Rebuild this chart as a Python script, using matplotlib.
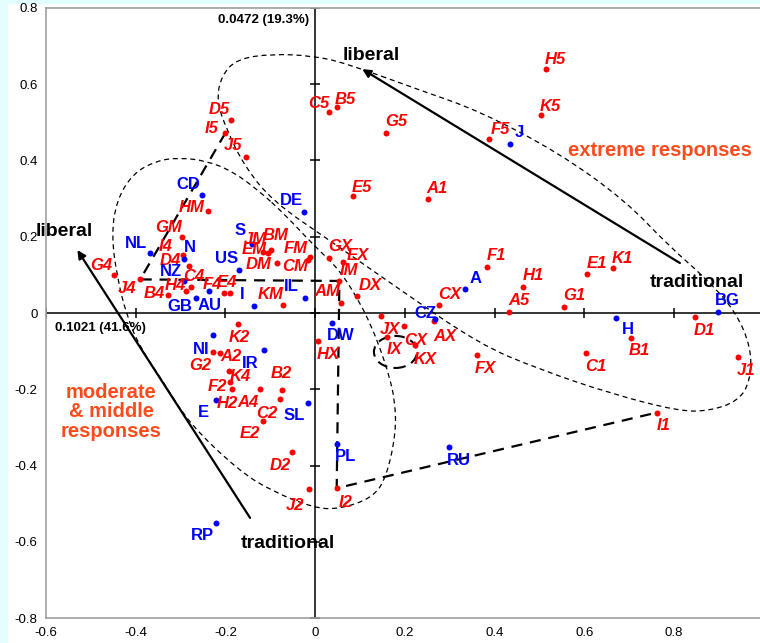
import numpy as np
import matplotlib.pyplot as plt
from matplotlib.path import Path
from matplotlib.patches import PathPatch, Ellipse, Rectangle

plt.rcParams['font.family'] = ['Liberation Sans', 'DejaVu Sans']
plt.rcParams['axes.unicode_minus'] = False

# response categories (red, italic)
cat_names = ["D5", "I5", "J5", "HM", "C5", "B5", "G5", "F5", "E5", "A1", "H5", "K5",
             "F1", "H1", "A5", "G1", "E1", "K1", "B1", "C1", "D1", "J1", "I1",
             "GX", "EX", "IM", "AM", "DX", "KM", "FM", "CM", "DM", "BM", "EM", "JM",
             "JX", "IX", "CX", "KX", "AX", "CX", "FX", "HX",
             "GM", "I4", "D4", "G4", "J4", "C4", "H4", "B4", "F4", "E4",
             "K2", "G2", "A2", "K4", "F2", "H2", "A4", "B2", "C2", "E2", "D2", "J2", "I2"]
cat_x = [-0.187, -0.200, -0.154, -0.238, 0.030, 0.048, 0.158, 0.388, 0.084, 0.251, 0.515, 0.504,
         0.383, 0.463, 0.432, 0.555, 0.607, 0.663, 0.703, 0.604, 0.847, 0.942, 0.761,
         0.030, 0.063, 0.054, 0.058, 0.094, -0.071, -0.011, -0.016, -0.085, -0.099, -0.106, -0.116,
         0.146, 0.160, 0.199, 0.223, 0.264, 0.277, 0.360, 0.007,
         -0.297, -0.295, -0.281, -0.449, -0.390, -0.276, -0.287, -0.327, -0.204, -0.189,
         -0.173, -0.228, -0.212, -0.192, -0.189, -0.186, -0.123, -0.073, -0.078, -0.117, -0.051, -0.013, 0.048]
cat_y = [0.506, 0.472, 0.410, 0.267, 0.527, 0.539, 0.472, 0.455, 0.307, 0.299, 0.639, 0.518,
         0.121, 0.069, 0.003, 0.017, 0.102, 0.117, -0.065, -0.104, -0.010, -0.115, -0.261,
         0.145, 0.134, 0.084, 0.025, 0.045, 0.021, 0.147, 0.139, 0.132, 0.164, 0.157, 0.160,
         -0.007, -0.062, -0.034, -0.085, -0.021, 0.021, -0.110, -0.073,
         0.200, 0.152, 0.124, 0.100, 0.088, 0.067, 0.058, 0.047, 0.052, 0.052,
         -0.028, -0.101, -0.104, -0.152, -0.180, -0.200, -0.198, -0.202, -0.225, -0.282, -0.365, -0.462, -0.459]

# countries (blue)
cty_names = ["CD", "DE", "J", "H", "BG", "IL", "I", "CZ", "A", "DW", "NI", "IR", "E", "SL",
             "PL", "RU", "RP", "NL", "N", "US", "S", "NZ", "GB", "AU"]
cty_x = [-0.252, -0.025, 0.434, 0.671, 0.898, -0.022, -0.136, 0.266, 0.334, 0.037, -0.227, -0.115,
         -0.221, -0.016, 0.048, 0.299, -0.221, -0.368, -0.293, -0.169, -0.140, -0.292, -0.266, -0.236]
cty_y = [0.309, 0.264, 0.442, -0.013, 0.003, 0.039, 0.018, -0.016, 0.063, -0.025, -0.058, -0.097,
         -0.228, -0.237, -0.343, -0.352, -0.550, 0.156, 0.142, 0.112, 0.181, 0.084, 0.039, 0.058]

# trajectory of item I
traj = ["I5", "J4", "IM", "I2", "I1"]

xticks = [-0.6, -0.4, -0.2, 0, 0.2, 0.4, 0.6, 0.8]
xticklabels = ["-0.6", "-0.4", "-0.2", "0", "0.2", "0.4", "0.6", "0.8"]
yticks = [-0.8, -0.6, -0.4, -0.2, 0, 0.2, 0.4, 0.6, 0.8]
yticklabels = ["-0.8", "-0.6", "-0.4", "-0.2", "0", "0.2", "0.4", "0.6", "0.8"]

# label offsets in pixels (dx right, dy down)
cat_off = [(-12, -11), (-14, -5), (-13, -12), (-17, -4.5), (-10, -9), (9, -9), (10, -12), (11, -11),
           (9, -9.5), (9, -11), (9, -11), (9.5, -10),
           (9, -12), (10, -12), (9.5, -12.5), (10, -12), (9, -12), (10, -11), (9, 11.5), (9.5, 12.5),
           (9, 13), (8, 12.5), (7, 12),
           (12, -12), (14, -7), (10, -11), (-13.5, -13), (13, -11), (-13, -11.5), (-14.5, -9.5),
           (-13, 6), (-18, 1), (4.5, -15.5), (-13, -4.5), (-8, -13),
           (9, 13), (8, 12), (11, 13.5), (10, 13), (11, 14), (10, -11.5), (9, 12.5), (10, 12.5),
           (-13, -10), (-17, -10), (-19, -6), (-12, -10), (-13, 8), (2, -12), (-11, -6), (-14, -2.5),
           (-11, -10), (-3.5, -12),
           (2, 13), (-12.5, 12.5), (11, 3), (11, 4), (-13, 4), (-4, 13), (-12, 13), (-1, -17.5),
           (-13.5, 13.5), (-13, 12), (-12, 12), (-14, 15.5), (9, 13.5)]
cty_off = [(-14, -12), (-13, -13), (9, -13), (11.5, 10.5), (9.5, -12.5), (-14, -13), (-12, -13),
           (-9, -6.5), (10.5, -11.5), (9, 12), (-12, 13.5), (-13, 12.5), (-12.5, 11.5), (-13.5, 11),
           (9, 11.5), (9.5, 12), (-14, 12), (-14, -11), (6, -12.5), (-13, -13), (-12, -14),
           (-13.5, -10.5), (-16, 7), (0, 13.5)]

# hand-drawn grouping outlines
big_loop_x = [0.231, 0.365, 0.543, 0.692, 0.788, 0.870, 0.937, 0.972, 0.970, 0.943, 0.877, 0.810,
              0.661, 0.498, 0.365, 0.187, 0.031, -0.096, -0.158, -0.196, -0.220, -0.209, -0.174,
              -0.096, -0.007, 0.065]
big_loop_y = [0.585, 0.530, 0.420, 0.294, 0.176, 0.092, 0.005, -0.092, -0.178, -0.231, -0.257, -0.257,
              -0.212, -0.147, -0.081, 0.063, 0.191, 0.294, 0.386, 0.477, 0.556, 0.622, 0.666,
              0.679, 0.674, 0.656]
left_loop_x = [-0.069, -0.002, 0.053, 0.098, 0.125, 0.147, 0.165, 0.178, 0.180, 0.158, 0.127, 0.053,
               -0.002, -0.096, -0.169, -0.280, -0.340, -0.392, -0.421, -0.441, -0.454, -0.443,
               -0.407, -0.354, -0.303, -0.243, -0.185, -0.125]
left_loop_y = [0.260, 0.176, 0.115, 0.031, -0.034, -0.100, -0.165, -0.231, -0.317, -0.433, -0.485,
               -0.514, -0.511, -0.467, -0.414, -0.291, -0.178, -0.087, -0.003, 0.092, 0.202, 0.294,
               0.365, 0.399, 0.407, 0.399, 0.372, 0.320]

RED = '#ff0000'
BLUE = '#0000ff'
ORANGE = '#ff4a1c'


def smooth_loop(ax, xs, ys, **kw):
    pts = np.column_stack([xs, ys])
    mids = (pts + np.roll(pts, -1, axis=0)) / 2
    verts = [mids[-1]]
    codes = [Path.MOVETO]
    for i in range(len(pts)):
        verts += [pts[i], mids[i]]
        codes += [Path.CURVE3, Path.CURVE3]
    ax.add_patch(PathPatch(Path(verts, codes), fill=False, **kw))


fig = plt.figure(figsize=(7.6, 6.43), dpi=100)
fig.patches.append(Rectangle((0, 0), 7 / 760, 1, transform=fig.transFigure, color='#e2fefe', zorder=-5))
fig.patches.append(Rectangle((0, 1 - 3 / 643), 1, 3 / 643, transform=fig.transFigure, color='#e2fefe', zorder=-5))
ax = fig.add_axes([0.0605, 0.0384, 0.9445, 0.9496])
ax.set_xlim(-0.6, 1.0)
ax.set_ylim(-0.8, 0.8)
for s in ax.spines.values():
    s.set_color('#a0a0a0')
    s.set_linewidth(1.2)
ax.set_xticks(xticks)
ax.set_xticklabels(xticklabels)
ax.set_yticks(yticks)
ax.set_yticklabels(yticklabels)
ax.tick_params(axis='x', length=0, pad=6, labelsize=9.5)
ax.tick_params(axis='y', length=0, pad=6, labelsize=9.5)

# axes through the origin
ax.axhline(0, color='black', lw=1.1, zorder=1)
ax.axvline(0, color='black', lw=1.1, zorder=1)
ax.plot(xticks, [0] * len(xticks), ls='none', marker='|', ms=7, color='black', mew=1.1, zorder=1)
ax.plot([0] * len(yticks), yticks, ls='none', marker='_', ms=7, color='black', mew=1.1, zorder=1)

# outlines
smooth_loop(ax, big_loop_x, big_loop_y, ls=(0, (4, 3)), lw=0.9, edgecolor='black', zorder=2)
smooth_loop(ax, left_loop_x, left_loop_y, ls=(0, (4, 3)), lw=0.9, edgecolor='black', zorder=2)
ax.add_patch(Ellipse((0.179, -0.102), 0.096, 0.084, fill=False, ls=(0, (5, 3)), lw=1.5,
                     edgecolor='black', zorder=2))

tx = [cat_x[cat_names.index(n)] for n in traj]
ty = [cat_y[cat_names.index(n)] for n in traj]
ax.plot(tx, ty, color='black', lw=1.6, ls=(0, (5, 3.5)), zorder=2)

# arrows
ax.annotate('', xy=(0.105, 0.639), xytext=(0.813, 0.131),
            arrowprops=dict(arrowstyle='-|>', lw=1.6, color='black', mutation_scale=12, shrinkA=0, shrinkB=0))
ax.annotate('', xy=(-0.530, 0.165), xytext=(-0.145, -0.537),
            arrowprops=dict(arrowstyle='-|>', lw=1.6, color='black', mutation_scale=12, shrinkA=0, shrinkB=0))

# points
ax.plot(cat_x, cat_y, 'o', color=RED, ms=4.3, mec='none', zorder=3)
ax.plot(cty_x, cty_y, 'o', color=BLUE, ms=4.3, mec='none', zorder=3)

for n, x, y, (dx, dy) in zip(cat_names, cat_x, cat_y, cat_off):
    ax.annotate(n, (x, y), xytext=(dx, -dy - 1), textcoords='offset pixels', ha='center', va='center',
                color=RED, fontsize=12, fontweight='bold', fontstyle='italic', zorder=4)
for n, x, y, (dx, dy) in zip(cty_names, cty_x, cty_y, cty_off):
    ax.annotate(n, (x, y), xytext=(dx, -dy - 1), textcoords='offset pixels', ha='center', va='center',
                color=BLUE, fontsize=12, fontweight='bold', zorder=4)

# annotations
ax.text(0.125, 0.676, 'liberal', ha='center', va='center', fontsize=14, fontweight='bold', zorder=5)
ax.text(-0.559, 0.214, 'liberal', ha='center', va='center', fontsize=14, fontweight='bold', zorder=5)
ax.text(0.851, 0.081, 'traditional', ha='center', va='center', fontsize=14, fontweight='bold', zorder=5)
ax.text(-0.060, -0.605, 'traditional', ha='center', va='center', fontsize=14, fontweight='bold', zorder=5)
ax.text(0.769, 0.427, 'extreme responses', ha='center', va='center', fontsize=14.5, fontweight='bold',
        color=ORANGE, zorder=5)
ax.text(-0.455, -0.259, 'moderate\n& middle\nresponses', ha='center', va='center', fontsize=14.5,
        fontweight='bold', color=ORANGE, linespacing=1.05, zorder=5)
ax.text(-0.115, 0.768, '0.0472 (19.3%)', ha='center', va='center', fontsize=9.5, fontweight='bold', zorder=5)
ax.text(-0.479, -0.039, '0.1021 (41.6%)', ha='center', va='center', fontsize=9.5, fontweight='bold', zorder=5)

fig.savefig('out.png', dpi=100)
